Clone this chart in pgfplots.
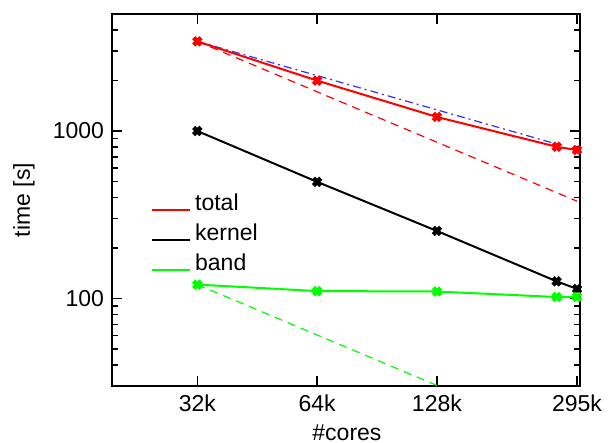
\documentclass[border=0pt]{standalone}
\usepackage{fontspec}
\setmainfont{Liberation Sans}
\usepackage{pgfplots}
\pgfplotsset{compat=1.18}
\definecolor{myred}{RGB}{255,0,0}
\definecolor{mygreen}{RGB}{0,255,0}
\definecolor{myblue}{RGB}{50,50,255}
\newcommand{\chartfont}{\fontsize{11.5}{13.8}\selectfont}
\begin{document}
\begin{tikzpicture}
\begin{axis}[name=ax, scale only axis, width=234pt, height=186pt,
 xmode=log, log basis x=2, ymode=log,
 xmin=20, xmax=300, ymin=30, ymax=5000,
 xtick={32.768,65.536,131.072,294.912}, xticklabels={32k,64k,128k,295k},
 minor xtick={},
 ytick={100,1000}, yticklabels={100,1000},
 minor ytick={40,50,60,70,80,90,200,300,400,500,600,700,800,900,2000,3000,4000},
 tick pos=both, xticklabel pos=left, yticklabel pos=left,
 tick align=inside, major tick length=5pt, minor tick length=3pt,
 every tick/.append style={black, line width=0.8pt},
 axis line style={line width=1pt},
 ticklabel style={font=\chartfont},
 label style={font=\chartfont},
 xticklabel style={yshift=-1pt},
 yticklabel style={xshift=-0.5pt},
 xlabel={\#cores}, ylabel={time [s]},
 xlabel style={at={(axis description cs:0.502,-0.126)},anchor=center},
 ylabel style={at={(axis description cs:-0.188,0.5)},anchor=center},
 legend style={draw=none, fill=none, at={(axis description cs:0.07,0.54)}, anchor=north west,
   font=\chartfont, row sep=1.2pt},
 legend cell align=left,
 legend image code/.code={\draw[#1,line width=1pt] (0pt,-3.5pt) -- (19pt,-3.5pt);},
 every axis plot/.append style={line width=1pt},
 ]
% reference lines
\addplot[myred, line width=0.6pt, dash pattern=on 4pt off 3pt, forget plot] coordinates {(32.768,3430) (294.912,381)};
\addplot[myblue, line width=0.6pt, dash pattern=on 4pt off 2pt on 1pt off 2pt, forget plot] coordinates {(32.768,3430) (262.144,836)};
\addplot[mygreen, line width=0.6pt, dash pattern=on 4pt off 3pt, forget plot] coordinates {(32.768,121) (131.072,30.25)};
% data
\addplot[myred, mark=x, mark size=2.6pt, mark options={solid,line width=2.2pt}] coordinates {
 (32.768,3430) (65.536,2000) (131.072,1213) (262.144,805) (294.912,770)};
\addlegendentry{total}
\addplot[black, mark=x, mark size=2.6pt, mark options={solid,line width=2.2pt}] coordinates {
 (32.768,1000) (65.536,497) (131.072,253) (262.144,126.5) (294.912,114)};
\addlegendentry{kernel}
\addplot[mygreen, mark=x, mark size=2.6pt, mark options={solid,line width=2.2pt}] coordinates {
 (32.768,121) (65.536,110.7) (131.072,110) (262.144,102) (294.912,102)};
\addlegendentry{band}
\end{axis}
\pgfresetboundingbox
\path[use as bounding box] ([xshift=-56pt,yshift=-28.5pt]ax.south west) rectangle ([xshift=17pt,yshift=7pt]ax.north east);
\end{tikzpicture}
\end{document}
